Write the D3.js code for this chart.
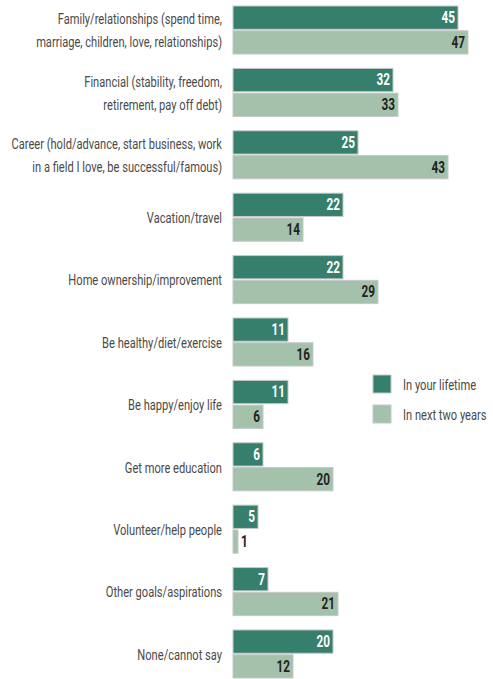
<!DOCTYPE html>
<html><head><meta charset="utf-8">
<script src="https://cdn.jsdelivr.net/npm/d3@7"></script>
<style>
body{margin:0;background:#fff;}
svg text{font-family:Roboto,"Liberation Sans",sans-serif;}
</style></head>
<body><svg id="c" width="493" height="679"></svg>
<script>
const categories = [
  ["Family/relationships (spend time,","marriage, children, love, relationships)"],
  ["Financial (stability, freedom,","retirement, pay off debt)"],
  ["Career (hold/advance, start business, work","in a field I love, be successful/famous)"],
  ["Vacation/travel"],
  ["Home ownership/improvement"],
  ["Be healthy/diet/exercise"],
  ["Be happy/enjoy life"],
  ["Get more education"],
  ["Volunteer/help people"],
  ["Other goals/aspirations"],
  ["None/cannot say"]
];
const seriesNames = ["In your lifetime","In next two years"];
const lifetime = [45,32,25,22,22,11,11,6,5,7,20];
const nextTwo  = [47,33,43,14,29,16,6,20,1,21,12];
const colors = ["#357f6c","#a4c2ab"];

const svg = d3.select("#c");

// condensed look: fit a horizontal squeeze factor to a few measured label widths
const fitPairs = [
  ["Career (hold/advance, start business, work",209],
  ["in a field I love, be successful/famous)",186],
  ["Family/relationships (spend time,",166],
  ["marriage, children, love, relationships)",189],
  ["Financial (stability, freedom,",139],
  ["retirement, pay off debt)",120],
  ["Home ownership/improvement",156],
  ["Vacation/travel",71.5]
];
const probe = svg.append("text").attr("font-size",14);
let num=0, den=0;
fitPairs.forEach(([s,t])=>{ probe.text(s); const m=probe.node().getComputedTextLength(); num+=t*m; den+=m*m; });
const SX = num/den;
probe.attr("font-size",17).attr("font-weight","bold").text("45");
const SXV = 13.5 / probe.node().getComputedTextLength();
probe.remove();

const keys = categories.map((c,i)=>"c"+i);
const y = d3.scaleBand().domain(keys).range([6,678]).paddingInner(0.23).paddingOuter(0);
const yi = d3.scaleBand().domain(seriesNames).range([0,y.bandwidth()]).paddingInner(0.06);
const x = d3.scaleLinear().domain([0,50]).range([233,483]);

const data = categories.map((c,i)=>({key:keys[i],label:c,vals:[lifetime[i],nextTwo[i]]}));

const g = svg.selectAll("g.grp").data(data).join("g").attr("class","grp")
  .attr("transform",d=>`translate(0,${y(d.key)})`);

g.selectAll("rect").data(d=>d.vals.map((v,j)=>({v,s:seriesNames[j],j})))
  .join("rect")
  .attr("x",x(0)).attr("y",d=>yi(d.s))
  .attr("width",d=>x(d.v)-x(0)).attr("height",yi.bandwidth())
  .attr("fill",d=>colors[d.j]).attr("stroke","#c8c8c8").attr("stroke-width",1);

g.selectAll("g.val").data(d=>d.vals.map((v,j)=>({v,s:seriesNames[j],j})))
  .join("g").attr("class","val")
  .attr("transform",d=>{
    const w=x(d.v)-x(0);
    const tx = w<14 ? x(d.v)+3 : x(d.v)-3;
    return `translate(${tx},${yi(d.s)+yi.bandwidth()/2}) scale(${SXV},1)`;
  })
  .append("text")
  .attr("text-anchor",d=>(x(d.v)-x(0))<14?"start":"end")
  .attr("dy","0.32em")
  .attr("font-size",17).attr("font-weight","bold")
  .attr("fill",d=>d.j===0?"#ffffff":"#222222")
  .text(d=>d.v);

g.each(function(d){
  const n = d.label.length, lh = 23;
  d.label.forEach((line,k)=>{
    d3.select(this).append("g")
      .attr("transform",`translate(222,${y.bandwidth()/2 + (k-(n-1)/2)*lh}) scale(${SX},1)`)
      .append("text").attr("text-anchor","end").attr("dy","0.42em")
      .attr("font-size",14).attr("fill","#4a4a4a").text(line);
  });
});

const lg = svg.append("g").selectAll("g").data(seriesNames).join("g")
  .attr("transform",(d,i)=>`translate(373,${375+i*30})`);
lg.append("rect").attr("width",18).attr("height",18).attr("fill",(d,i)=>colors[i]).attr("stroke","#c8c8c8");
lg.append("g").attr("transform",`translate(30,9) scale(${SX},1)`)
  .append("text").attr("dy","0.42em").attr("font-size",14).attr("fill","#4a4a4a").text(d=>d);
</script></body></html>
